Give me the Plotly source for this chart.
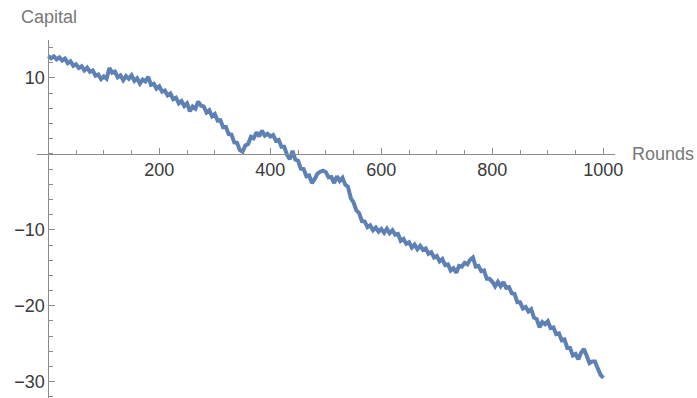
import plotly.graph_objects as go

rounds = list(range(0, 1001, 5))
capital = [
    12.9, 12.6, 12.85, 12.45, 12.7, 12.3, 12.55, 11.95, 12.2, 11.6,
    11.8, 11.3, 11.55, 11.0, 11.35, 10.8, 11.0, 10.3, 10.45, 9.85,
    10.2, 9.9, 11.3, 10.7, 10.85, 10.1, 10.35, 9.7, 10.25, 9.9,
    10.35, 9.6, 9.95, 9.25, 9.8, 9.55, 10.15, 9.1, 9.25, 8.6,
    8.9, 8.2, 8.35, 7.7, 7.95, 7.2, 7.4, 6.65, 6.95, 6.3,
    6.65, 5.6, 6.25, 5.95, 6.9, 6.35, 6.25, 5.45, 5.75, 4.95,
    5.25, 4.4, 4.45, 3.5, 3.55, 2.6, 2.55, 1.5, 1.45, 0.5,
    0.3, 1.1, 1.3, 2.25, 2.05, 2.85, 2.3, 3.05, 2.4, 2.65,
    2.3, 2.5, 1.75, 1.85, 0.95, 0.95, -0.1, -0.7, 0.4, -0.75,
    -0.9, -1.95, -2.0, -2.95, -2.85, -3.85, -3.3, -2.6, -2.35, -2.2,
    -2.4, -3.1, -3.05, -3.85, -2.95, -3.55, -3.15, -4.05, -4.35, -5.85,
    -6.4, -7.45, -7.8, -8.85, -8.9, -9.65, -9.4, -10.05, -9.7, -10.25,
    -9.9, -10.4, -9.85, -10.45, -10.05, -10.65, -10.55, -11.45, -11.2, -11.85,
    -11.65, -12.35, -11.95, -12.55, -12.1, -12.65, -12.45, -13.15, -12.95, -13.65,
    -13.45, -14.15, -13.85, -14.65, -14.55, -15.35, -15.05, -15.65, -14.75, -14.85,
    -14.35, -14.55, -13.95, -13.65, -14.85, -14.75, -15.45, -15.35, -16.45, -16.45,
    -16.85, -17.45, -16.85, -17.45, -16.9, -17.65, -17.55, -18.35, -18.45, -19.55,
    -19.55, -20.35, -20.15, -20.75, -20.45, -21.55, -21.75, -22.85, -22.15, -22.45,
    -22.05, -22.95, -22.85, -23.75, -23.65, -24.55, -24.45, -25.55, -25.55, -26.55,
    -26.35, -27.05, -26.2, -25.7, -26.6, -27.55, -27.35, -27.35, -28.25, -29.1,
    -29.5,
]

x_ticks = [200, 400, 600, 800, 1000]
y_ticks = [10, -10, -20, -30]
x_range = [-20.4, 1021]
y_range = [-32.15, 15.0]

line_color = "#5E81B5"
axis_color = "#8c8c8c"
tick_font = dict(family="Liberation Sans, Arial, sans-serif", size=18, color="#3a3a3a")
label_font = dict(family="Liberation Sans, Arial, sans-serif", size=18, color="#777777")

fig = go.Figure()
fig.add_trace(go.Scatter(
    x=rounds, y=capital, mode="lines",
    line=dict(color=line_color, width=4),
    hoverinfo="skip",
))

x_pos = (0 - y_range[0]) / (y_range[1] - y_range[0])
y_pos = (0 - x_range[0]) / (x_range[1] - x_range[0])

fig.update_layout(
    width=697, height=398,
    margin=dict(l=37, r=82, t=40, b=0),
    paper_bgcolor="white", plot_bgcolor="white",
    showlegend=False,
    xaxis=dict(
        range=x_range, showgrid=False, zeroline=False,
        anchor="free", position=x_pos, side="bottom",
        showline=True, linecolor=axis_color, linewidth=1,
        tickmode="array", tickvals=x_ticks, ticktext=[str(v) for v in x_ticks],
        ticks="inside", ticklen=6, tickcolor=axis_color, tickwidth=1,
        minor=dict(ticks="inside", ticklen=4, dtick=50, tick0=0,
                   tickcolor=axis_color, tickwidth=1),
        tickfont=tick_font,
    ),
    yaxis=dict(
        range=y_range, showgrid=False, zeroline=False,
        anchor="free", position=y_pos, side="left",
        showline=True, linecolor=axis_color, linewidth=1,
        tickmode="array", tickvals=y_ticks, ticktext=[("\u2212" + str(-v)) if v < 0 else str(v) for v in y_ticks],
        ticks="inside", ticklen=6, tickcolor=axis_color, tickwidth=1,
        minor=dict(ticks="inside", ticklen=4, dtick=2, tick0=0,
                   tickcolor=axis_color, tickwidth=1),
        tickfont=tick_font,
    ),
    annotations=[
        dict(text="Capital", xref="paper", yref="paper",
             x=(19 - 37) / 578, y=(398 - 17) / 358,
             xanchor="left", yanchor="middle", showarrow=False, font=label_font),
        dict(text="Rounds", xref="paper", yref="y",
             x=(630 - 37) / 578, y=0,
             xanchor="left", yanchor="middle", showarrow=False, font=label_font),
    ],
)

fig.write_html("out.html")
